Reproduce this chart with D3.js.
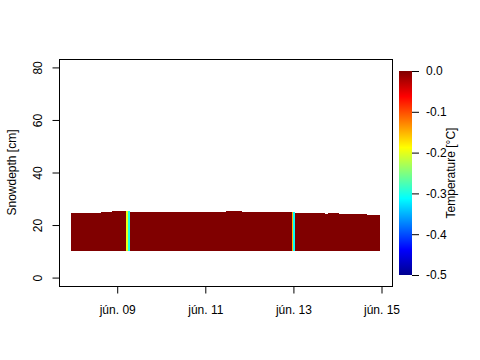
<!DOCTYPE html>
<html>
<head>
<meta charset="utf-8">
<script src="https://cdn.jsdelivr.net/npm/d3@7"></script>
<style>
body { margin: 0; background: #fff; }
text { font-family: "Liberation Sans", Arial, sans-serif; font-size: 12px; fill: #000; }
</style>
</head>
<body>
<div id="chart"></div>
<script>
// snow depth, as steps: each step holds its depth until the next one starts
var stepStarts = [ "2015-06-07 23:00", "2015-06-08 15:00", "2015-06-08 21:00", "2015-06-09 07:00",
	"2015-06-11 11:00", "2015-06-11 20:00", "2015-06-13 01:00", "2015-06-13 17:00",
	"2015-06-13 19:00", "2015-06-14 01:00", "2015-06-14 16:00" ];
var stepDepths = [ 24.5, 24.9, 25.3, 24.9, 25.3, 24.9, 24.5, 24.1, 24.5, 24.1, 23.7 ];
var seriesEnd = "2015-06-14 23:00";
var snowBase = 10;

// the few hours where the snow was colder than 0 degrees
var coldHours = [ "2015-06-09 05:00", "2015-06-09 06:00", "2015-06-12 23:00", "2015-06-13 00:00" ];
var coldTemps = [ -0.2, -0.3, -0.15, -0.31 ];

var xTickDates = [ "2015-06-09", "2015-06-11", "2015-06-13", "2015-06-15" ];
var yTicks = [ 0, 20, 40, 60, 80 ];
var tempTicks = [ 0, -0.1, -0.2, -0.3, -0.4, -0.5 ];

var parseTime = d3.timeParse( "%Y-%m-%d %H:%M" );
var parseDay = d3.timeParse( "%Y-%m-%d" );

var hu = d3.timeFormatLocale( {
	dateTime: "%Y. %B %-e., %A %X", date: "%Y. %m. %d.", time: "%H:%M:%S",
	periods: [ "de.", "du." ],
	days: [ "vasárnap", "hétfő", "kedd", "szerda", "csütörtök", "péntek", "szombat" ],
	shortDays: [ "V", "H", "K", "Sze", "Cs", "P", "Szo" ],
	months: [ "január", "február", "március", "április", "május", "június", "július", "augusztus", "szeptember", "október", "november", "december" ],
	shortMonths: [ "jan.", "febr.", "márc.", "ápr.", "máj.", "jún.", "júl.", "aug.", "szept.", "okt.", "nov.", "dec." ]
} );

// plain hyphen for negatives, like R
var numLocale = d3.formatLocale( { decimal: ".", thousands: ",", grouping: [ 3 ], currency: [ "", "" ], minus: "-" } );

var box = { left: 59, right: 392, top: 59, bottom: 286 };

var svg = d3.select( "#chart" )
	.append( "svg" )
	.attr( "width", 480 )
	.attr( "height", 360 );

// build the steps and the cold hours as rect data
var steps = stepStarts.map( function( s, i ) {
	return {
		start: parseTime( s ),
		end: parseTime( i < stepStarts.length - 1 ? stepStarts[ i + 1 ] : seriesEnd ),
		depth: stepDepths[ i ],
		temp: 0
	};
} );
var cold = coldHours.map( function( s, i ) {
	var t = parseTime( s );
	// depth of the step it falls in
	var d = steps.filter( function( st ) { return st.start <= t; } ).pop();
	return { start: t, end: d3.timeHour.offset( t, 1 ), depth: Math.max( d.depth, 24.9 ), temp: coldTemps[ i ] };
} );

var t0 = parseTime( stepStarts[ 0 ] ), t1 = parseTime( seriesEnd );
var pad = ( t1 - t0 ) * 0.04;

var x = d3.scaleTime()
	.domain( [ new Date( +t0 - pad ), new Date( +t1 + pad ) ] )
	.range( [ box.left, box.right ] );

var y = d3.scaleLinear()
	.domain( [ -3.2, 83.2 ] )
	.range( [ box.bottom, box.top ] );

// jet-like palette, -0.5 .. 0
var jet = [ "#00008F", "#0000FF", "#00FFFF", "#FFFF00", "#FF0000", "#800000" ];
var color = d3.scaleLinear()
	.domain( [ -0.5, -0.4375, -0.3125, -0.1875, -0.0625, 0 ] )
	.range( jet )
	.clamp( true );

svg.append( "g" )
	.selectAll( "rect" )
	.data( steps.concat( cold ) )
	.enter()
	.append( "rect" )
	.attr( "x", function( d ) { return x( d.start ); } )
	.attr( "width", function( d ) { return x( d.end ) - x( d.start ); } )
	.attr( "y", function( d ) { return y( d.depth ); } )
	.attr( "height", function( d ) { return y( snowBase ) - y( d.depth ); } )
	.attr( "fill", function( d ) { return color( d.temp ); } )
	.attr( "shape-rendering", "crispEdges" );

// frame
svg.append( "rect" )
	.attr( "x", box.left + 0.5 )
	.attr( "y", box.top + 0.5 )
	.attr( "width", box.right - box.left )
	.attr( "height", box.bottom - box.top )
	.attr( "fill", "none" )
	.attr( "stroke", "#000" );

// x axis
var xAxis = d3.axisBottom( x )
	.tickValues( xTickDates.map( parseDay ) )
	.tickFormat( hu.format( "%b %d" ) )
	.tickSizeInner( 7 )
	.tickSizeOuter( 0 )
	.tickPadding( 12 );
var gx = svg.append( "g" )
	.attr( "transform", "translate(0," + ( box.bottom + 0.5 ) + ")" )
	.call( xAxis );
gx.select( ".domain" ).remove();
gx.selectAll( "text" ).style( "font-size", "12px" ).style( "font-family", "Liberation Sans, Arial, sans-serif" );

// y axis, labels turned like R does
var yAxis = d3.axisLeft( y )
	.tickValues( yTicks )
	.tickSizeInner( 7 )
	.tickSizeOuter( 0 );
var gy = svg.append( "g" )
	.attr( "transform", "translate(" + ( box.left + 0.5 ) + ",0)" )
	.call( yAxis );
gy.select( ".domain" ).remove();
gy.selectAll( "text" )
	.attr( "x", null ).attr( "dy", null )
	.attr( "transform", "translate(-18,0) rotate(-90)" )
	.style( "text-anchor", "middle" )
	.style( "font-size", "12px" )
	.style( "font-family", "Liberation Sans, Arial, sans-serif" );

svg.append( "text" )
	.attr( "transform", "translate(16," + ( ( box.top + box.bottom ) / 2 ) + ") rotate(-90)" )
	.style( "text-anchor", "middle" )
	.text( "Snowdepth [cm]" );

// colour bar
var bar = { x: 399, w: 13, top: 71, bottom: 275 };
var grad = svg.append( "defs" ).append( "linearGradient" )
	.attr( "id", "jet" )
	.attr( "x1", 0 ).attr( "y1", 1 ).attr( "x2", 0 ).attr( "y2", 0 );
grad.selectAll( "stop" )
	.data( color.domain() )
	.enter()
	.append( "stop" )
	.attr( "offset", function( d ) { return ( d + 0.5 ) / 0.5; } )
	.attr( "stop-color", function( d ) { return color( d ); } );

svg.append( "rect" )
	.attr( "x", bar.x )
	.attr( "y", bar.top )
	.attr( "width", bar.w )
	.attr( "height", bar.bottom - bar.top )
	.attr( "fill", "url(#jet)" );

var yc = d3.scaleLinear()
	.domain( [ -0.5, 0 ] )
	.range( [ bar.bottom, bar.top ] );
var gc = svg.append( "g" )
	.attr( "transform", "translate(" + ( bar.x + bar.w ) + ",0)" )
	.call( d3.axisRight( yc ).tickValues( tempTicks ).tickFormat( numLocale.format( ".1f" ) ).tickSizeInner( 7 ).tickSizeOuter( 0 ).tickPadding( 7 ) );
gc.select( ".domain" ).remove();
gc.selectAll( "text" ).style( "font-size", "12px" ).style( "font-family", "Liberation Sans, Arial, sans-serif" );

svg.append( "text" )
	.attr( "transform", "translate(455,173) rotate(-90)" )
	.style( "text-anchor", "middle" )
	.text( "Temperature [°C]" );
</script>
</body>
</html>
